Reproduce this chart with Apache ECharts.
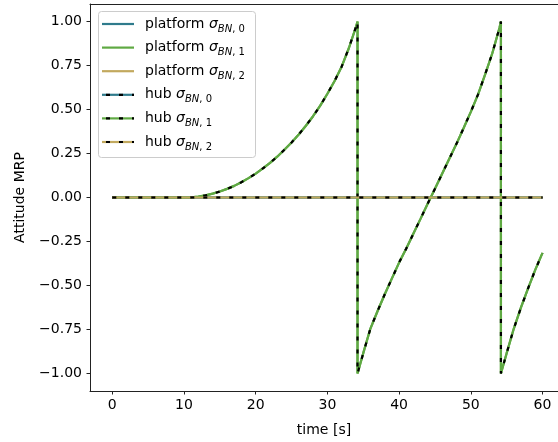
<!DOCTYPE html>
<html>
<head>
<meta charset="utf-8">
<script src="https://cdn.jsdelivr.net/npm/echarts@6/dist/echarts.min.js"></script>
<style>
  html, body { margin: 0; padding: 0; background: #fff; }
  #main { width: 558px; height: 442px; }
</style>
</head>
<body>
<div id="main"></div>
<script>
// time [s] of the sampled points; the jumps at 34.2 s and 54.2 s appear twice
var timeS = [0, 2, 4, 6, 8, 10, 11, 12, 13, 14, 15, 16, 17, 18, 19, 20, 21, 22, 23, 24, 25, 26, 27, 28, 29, 30, 31, 32, 33, 34, 34.2,
    34.2, 35, 36, 37, 38, 39, 40, 41, 42, 43, 44, 45, 46, 47, 48, 49, 50, 51, 52, 53, 54, 54.2,
    54.2, 55, 56, 57, 58, 59, 60];
var sigma1 = [0, 0, 0, 0, 0, 0, 0.001, 0.005, 0.012, 0.022, 0.034, 0.049, 0.066, 0.087, 0.110, 0.136, 0.165, 0.197, 0.232, 0.271, 0.313, 0.358, 0.408, 0.462, 0.522, 0.590, 0.662, 0.745, 0.850, 0.972, 1.0,
    -1.0, -0.885, -0.745, -0.645, -0.55, -0.46, -0.37, -0.29, -0.205, -0.12, -0.034, 0.05, 0.135, 0.22, 0.305, 0.395, 0.487, 0.585, 0.70, 0.82, 0.965, 1.0,
    -1.0, -0.885, -0.745, -0.625, -0.515, -0.41, -0.315];
// sigma 0 and sigma 2 stay at zero the whole run
var timeFlat = [0, 60];
var sigma0 = [0, 0];
var sigma2 = [0, 0];

var xTicks = [0, 10, 20, 30, 40, 50, 60];
var yTicks = [-1, -0.75, -0.5, -0.25, 0, 0.25, 0.5, 0.75, 1];

var colors = ['#2f7b8c', '#5fa943', '#c2a95e'];
var legendSubs = ['0', '1', '2'];

function pairs(xs, ys) {
    var out = [];
    for (var i = 0; i < xs.length; i++) out.push([xs[i], ys[i]]);
    return out;
}

var dataSets = [pairs(timeFlat, sigma0), pairs(timeS, sigma1), pairs(timeFlat, sigma2)];

var series = [];
// platform lines
dataSets.forEach(function (d, i) {
    series.push({
        type: 'line', data: d, showSymbol: false, silent: true, animation: false,
        lineStyle: { color: colors[i], width: 2.2 }, z: 2
    });
});
// hub lines: coloured line with black dashes on top
dataSets.forEach(function (d, i) {
    series.push({
        type: 'line', data: d, showSymbol: false, silent: true, animation: false,
        lineStyle: { color: colors[i], width: 2.2 }, z: 3 + i * 2
    });
    series.push({
        type: 'line', data: d, showSymbol: false, silent: true, animation: false,
        lineStyle: { color: '#000', width: 2.2, type: [4, 9] }, z: 4 + i * 2
    });
});

// hand drawn legend (matplotlib style)
var graphics = [{
    type: 'rect', left: 98, top: 11, z: 50,
    shape: { width: 157, height: 146, r: 3 },
    style: { fill: 'rgba(255,255,255,0.8)', stroke: '#cccccc', lineWidth: 1 }
}];
var rowY = [24, 47.6, 71.2, 94.8, 118.4, 142];
for (var r = 0; r < 6; r++) {
    var ci = r % 3;
    var y = rowY[r];
    graphics.push({
        type: 'line', z: 51,
        shape: { x1: 102, y1: y, x2: 134, y2: y },
        style: { stroke: colors[ci], lineWidth: 2.2 }
    });
    if (r >= 3) {
        graphics.push({
            type: 'line', z: 52,
            shape: { x1: 102, y1: y, x2: 134, y2: y },
            style: { stroke: '#000', lineWidth: 2.2, lineDash: [4, 9], lineDashOffset: -4 }
        });
    }
    graphics.push({
        type: 'text', z: 53, x: 145, y: y - 10,
        style: {
            text: '{n|' + (r < 3 ? 'platform ' : 'hub ') + '}{s|σ}{b|BN}{c|, ' + legendSubs[ci] + '}',
            rich: {
                n: { fontSize: 14, fontFamily: 'DejaVu Sans', fill: '#000', lineHeight: 20 },
                s: { fontSize: 14, fontFamily: 'DejaVu Sans', fontStyle: 'italic', fill: '#000', lineHeight: 20 },
                b: { fontSize: 10, fontFamily: 'DejaVu Sans', fontStyle: 'italic', fill: '#000', lineHeight: 12, verticalAlign: 'bottom' },
                c: { fontSize: 10, fontFamily: 'DejaVu Sans', fill: '#000', lineHeight: 12, verticalAlign: 'bottom' }
            }
        }
    });
}

var labelFont = { fontSize: 14, fontFamily: 'DejaVu Sans', color: '#000' };
var lineCol = '#222';

var option = {
    backgroundColor: '#fff',
    animation: false,
    grid: { left: 90, top: 4, right: 0, bottom: 51, show: false },
    xAxis: [{
        type: 'value', min: -3.11, max: 62.16, position: 'bottom',
        name: 'time [s]', nameLocation: 'middle', nameGap: 32, nameTextStyle: labelFont,
        axisLine: { show: true, onZero: false, lineStyle: { color: lineCol, width: 1 } },
        axisTick: { show: true, length: 3.5, lineStyle: { color: lineCol }, customValues: xTicks },
        axisLabel: Object.assign({ customValues: xTicks, margin: 7 }, labelFont),
        splitLine: { show: false }
    }, {
        // top frame line only
        type: 'value', min: -3.11, max: 62.16, position: 'top',
        axisLine: { show: true, onZero: false, lineStyle: { color: lineCol, width: 1 } },
        axisTick: { show: false }, axisLabel: { show: false }, splitLine: { show: false }
    }],
    yAxis: {
        type: 'value', min: -1.1, max: 1.1,
        name: 'Attitude MRP', nameLocation: 'middle', nameGap: 63, nameRotate: 90, nameTextStyle: labelFont,
        axisLine: { show: true, onZero: false, lineStyle: { color: lineCol, width: 1 } },
        axisTick: { show: true, length: 3.5, lineStyle: { color: lineCol }, customValues: yTicks },
        axisLabel: Object.assign({
            customValues: yTicks, margin: 8,
            formatter: function (v) { return (v < 0 ? '\u2212' : '') + Math.abs(v).toFixed(2); }
        }, labelFont),
        splitLine: { show: false }
    },
    graphic: graphics,
    series: series
};

var myChart = echarts.init(document.getElementById('main'), null, { renderer: 'canvas' });
myChart.setOption(option);
</script>
</body>
</html>
